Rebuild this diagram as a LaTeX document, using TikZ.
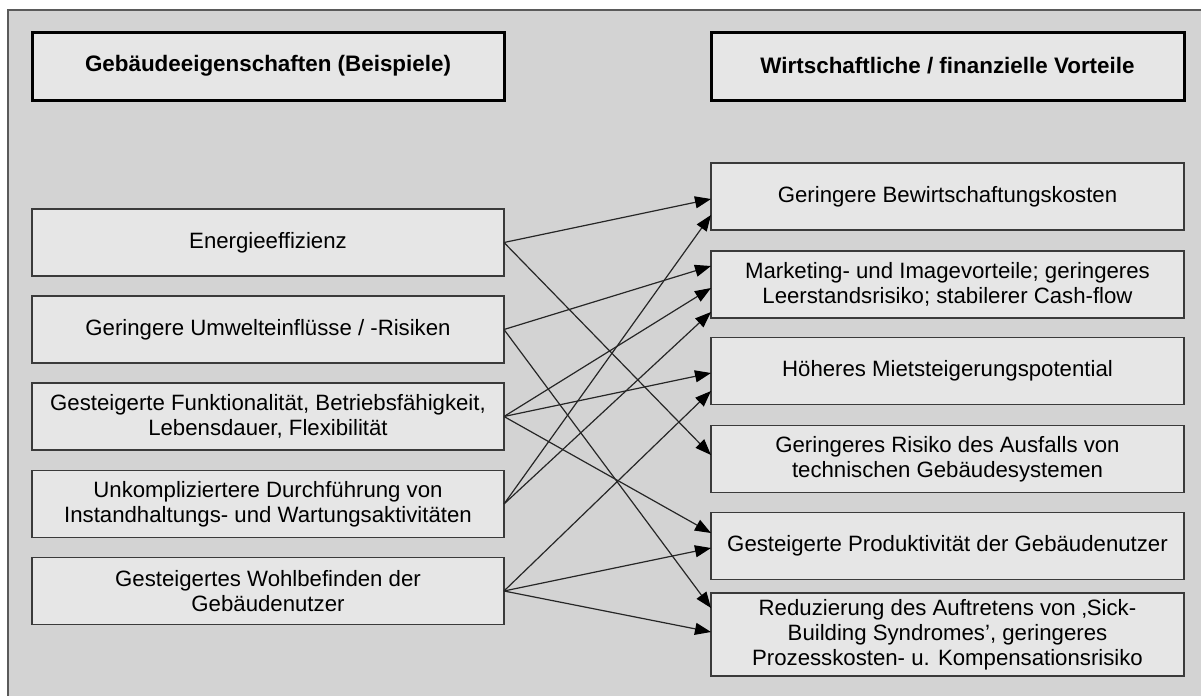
\documentclass[tikz,border=0pt]{standalone}
\usepackage{fontspec}
\setmainfont{Liberation Sans}
\usetikzlibrary{arrows.meta,calc}
\definecolor{bggray}{HTML}{D3D3D3}
\definecolor{boxgray}{HTML}{E6E6E6}
\definecolor{linegray}{HTML}{262626}
\definecolor{framegray}{HTML}{5A5A5A}
\definecolor{bordergray}{HTML}{3A3A3A}
\begin{document}
\begin{tikzpicture}[x=0.5pt,y=-0.5pt,
  every node/.style={font=\fontsize{11.1}{12.6}\selectfont, align=center, inner sep=0pt, outer sep=0pt},
  leftbox/.style={draw=bordergray, line width=0.7pt, fill=boxgray, minimum width=236pt, minimum height=33.5pt},
  rightbox/.style={leftbox, minimum width=236.5pt},
  headbox/.style={draw=black, line width=1.5pt, fill=boxgray, minimum width=236pt, minimum height=34pt, font=\fontsize{11.2}{12.6}\selectfont\bfseries},
  arr/.style={draw=linegray, line width=0.6pt, -{Triangle[length=8pt,width=6pt,color=black]}}
]
\useasboundingbox (0,0) rectangle (1201,696);
\clip (0,0) rectangle (1201,696);
\fill[bggray] (7.7,10) rectangle (1215,710);
\draw[framegray, line width=1pt] (7.7,710) -- (7.7,10) -- (1215,10);

% headers
\node[headbox] (hl) at (268,66) {Gebäudeeigenschaften (Beispiele)};
\node[headbox, minimum width=236.5pt] (hr) at (947.5,66) {Wirtschaftliche / finanzielle Vorteile};

% left column
\node[leftbox] (l1) at (268,242.5) {Energieeffizienz};
\node[leftbox] (l2) at (268,329.5) {Geringere Umwelteinflüsse / -Risiken};
\node[leftbox] (l3) at (268,416.5) {Gesteigerte Funktionalität, Betriebsfähigkeit,\\Lebensdauer, Flexibilität};
\node[leftbox] (l4) at (268,504) {Unkompliziertere Durchführung von\\Instandhaltungs- und Wartungsaktivitäten};
\node[leftbox] (l5) at (268,591) {Gesteigertes Wohlbefinden der\\Gebäudenutzer};

% right column
\node[rightbox] (r1) at (947.5,196.5) {Geringere Bewirtschaftungskosten};
\node[rightbox] (r2) at (947.5,284.5) {Marketing- und Imagevorteile; geringeres\\Leerstandsrisiko; stabilerer Cash-flow};
\node[rightbox] (r3) at (947.5,371) {Höheres Mietsteigerungspotential};
\node[rightbox] (r4) at (947.5,459) {Geringeres Risiko des Ausfalls von\\technischen Gebäudesystemen};
\node[rightbox] (r5) at (947.5,546) {Gesteigerte Produktivität der Gebäudenutzer};
\node[rightbox, minimum height=41.5pt] (r6) at (947.5,634.5) {Reduzierung des Auftretens von ‚Sick-\\Building Syndromes’, geringeres\\Prozesskosten- u. Kompensationsrisiko};

% connectors
\draw[arr] (l1.east) -- ($(r1.west)+(0,2.5)$);
\draw[arr] (l1.east) -- ($(r4.west)+(0,-4)$);
\draw[arr] (l2.east) -- ($(r2.west)+(0,-18.5)$);
\draw[arr] (l2.east) -- ($(r6.west)+(0,-26.5)$);
\draw[arr] (l3.east) -- ($(r2.west)+(0,3.5)$);
\draw[arr] (l3.east) -- ($(r3.west)+(0,2)$);
\draw[arr] (l3.east) -- ($(r5.west)+(0,-13)$);
\draw[arr] (l4.east) -- ($(r1.west)+(0,18.5)$);
\draw[arr] (l4.east) -- ($(r2.west)+(0,27.5)$);
\draw[arr] (l5.east) -- ($(r3.west)+(0,20)$);
\draw[arr] (l5.east) -- ($(r5.west)+(0,2)$);
\draw[arr] (l5.east) -- ($(r6.west)+(0,-2.5)$);
\end{tikzpicture}
\end{document}
